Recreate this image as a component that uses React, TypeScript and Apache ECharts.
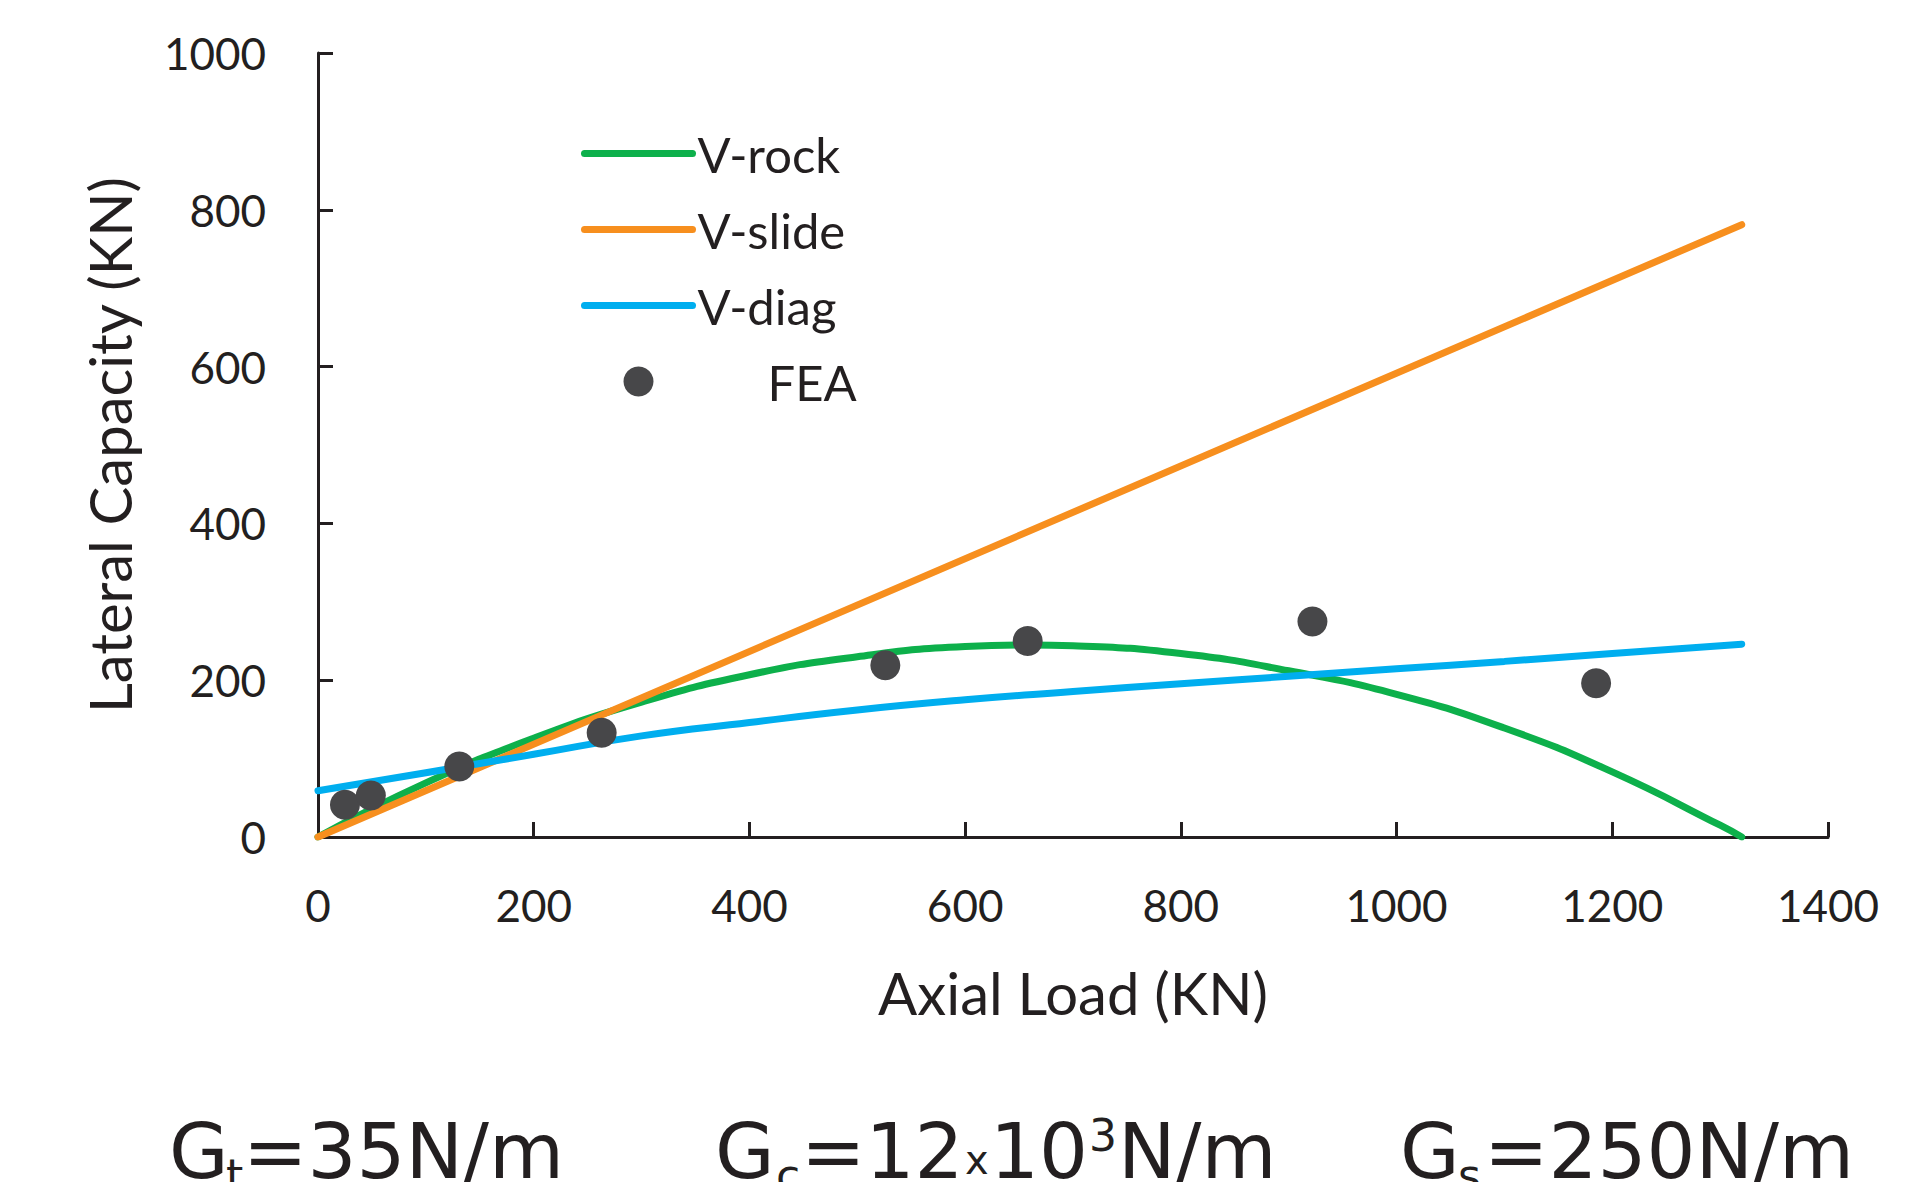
import React, { useEffect, useRef } from 'react';
import * as echarts from 'echarts';

// ---- data ----
const rockN = [0, 100, 200, 300, 400, 500, 600, 660, 700, 800, 900, 1000, 1100, 1200, 1300, 1320];
const rockV = [0, 69, 126, 172, 207, 230, 243, 245, 244, 234, 212, 182, 139, 83, 15, 0];

const slideN = [0, 1320];
const slideV = [0, 781];

const diagN = [0, 100, 200, 300, 400, 500, 600, 700, 800, 900, 1000, 1100, 1200, 1320];
const diagV = [59, 82, 105.5, 129, 146, 162, 175, 185.5, 195.5, 205, 214.5, 224, 234, 246];

const feaN = [25, 49, 131, 263, 526, 658, 922, 1185];
const feaV = [41, 53, 90, 133, 219, 250, 275, 196];

const seriesNames = ['V-rock', 'V-slide', 'V-diag', 'FEA'];
const xTitle = 'Axial Load (KN)';
const yTitle = 'Lateral Capacity (KN)';

const AX = '#231f20';
const GREEN = '#0db04b';
const ORANGE = '#f78f1e';
const BLUE = '#00aeef';
const DOT = '#474749';

const pair = (xs: number[], ys: number[]) => xs.map((x, i) => [x, ys[i]]);

export default function App() {
  const ref = useRef<HTMLDivElement>(null);
  useEffect(() => {
    const chart = echarts.init(ref.current!, null, { renderer: 'svg' });
    const big = { fontFamily: 'DejaVu Sans', fontSize: 77, fill: AX, verticalAlign: 'middle', align: 'left' };
    const sub = { fontFamily: 'DejaVu Sans', fontSize: 44, fill: AX, verticalAlign: 'middle', align: 'left' };
    const t = (text: string, x: number, y: number, st: any) => ({ type: 'text', x, y, style: { ...st, text } });
    const lineItem = (name: string, color: string) => ({
      name,
      itemStyle: { opacity: 0 },
      lineStyle: { color, width: 7, cap: 'round' },
    });
    chart.setOption({
      animation: false,
      backgroundColor: '#ffffff',
      grid: { left: 318, right: 82, top: 53, bottom: 345, containLabel: false },
      legend: {
        orient: 'vertical',
        left: 576,
        top: 124,
        itemWidth: 108,
        itemHeight: 30,
        itemGap: 27,
        textStyle: { fontFamily: 'Lato', fontSize: 49, color: AX },
        data: [
          lineItem(seriesNames[0], GREEN),
          lineItem(seriesNames[1], ORANGE),
          lineItem(seriesNames[2], BLUE),
          { name: seriesNames[3], textStyle: { padding: [0, 0, 0, 70] } },
        ],
      },
      xAxis: {
        type: 'value',
        min: 0,
        max: 1400,
        interval: 200,
        axisLine: { show: true, lineStyle: { color: AX, width: 3 } },
        axisTick: { show: true, inside: true, length: 15, lineStyle: { color: AX, width: 3 } },
        splitLine: { show: false },
        axisLabel: { fontFamily: 'Lato', fontSize: 44, color: AX, margin: 46, formatter: (v: number) => String(v) },
        name: xTitle,
        nameLocation: 'middle',
        nameGap: 126,
        nameTextStyle: { fontFamily: 'Lato', fontSize: 58, color: AX },
      },
      yAxis: {
        type: 'value',
        min: 0,
        max: 1000,
        interval: 200,
        axisLine: { show: true, lineStyle: { color: AX, width: 3 } },
        axisTick: { show: true, inside: true, length: 15, lineStyle: { color: AX, width: 3 } },
        splitLine: { show: false },
        axisLabel: { fontFamily: 'Lato', fontSize: 44, color: AX, margin: 52, formatter: (v: number) => String(v) },
        name: yTitle,
        nameLocation: 'middle',
        nameRotate: 90,
        nameGap: 180,
        nameTextStyle: { fontFamily: 'Lato', fontSize: 58, color: AX },
      },
      series: [
        {
          type: 'line', name: seriesNames[0], data: pair(rockN, rockV), smooth: true, symbol: 'none',
          lineStyle: { color: GREEN, width: 7, cap: 'round' }, itemStyle: { color: GREEN }, z: 2,
        },
        {
          type: 'line', name: seriesNames[1], data: pair(slideN, slideV), symbol: 'none',
          lineStyle: { color: ORANGE, width: 7, cap: 'round' }, itemStyle: { color: ORANGE }, z: 3,
        },
        {
          type: 'line', name: seriesNames[2], data: pair(diagN, diagV), smooth: true, symbol: 'none',
          lineStyle: { color: BLUE, width: 7, cap: 'round' }, itemStyle: { color: BLUE }, z: 4,
        },
        {
          type: 'scatter', name: seriesNames[3], data: pair(feaN, feaV), symbol: 'circle', symbolSize: 30,
          itemStyle: { color: DOT, opacity: 1 }, z: 5,
        },
      ],
      graphic: [
        t('G', 169, 1151, big), t('t', 226, 1175, sub), t('=35N/m', 243, 1151, big),
        t('G', 715, 1151, big), t('c', 776, 1175, sub), t('=12', 801, 1151, big),
        t('x', 965, 1160, { ...sub, fontSize: 40 }), t('10', 990, 1151, big),
        t('3', 1089, 1135, sub), t('N/m', 1118, 1151, big),
        t('G', 1400, 1151, big), t('s', 1458, 1175, sub), t('=250N/m', 1484, 1151, big),
      ],
    });
    return () => chart.dispose();
  }, []);
  return (
    <div
      ref={ref}
      style={{ position: 'absolute', left: 0, top: 0, width: 1910, height: 1182, background: '#fff' }}
    />
  );
}
